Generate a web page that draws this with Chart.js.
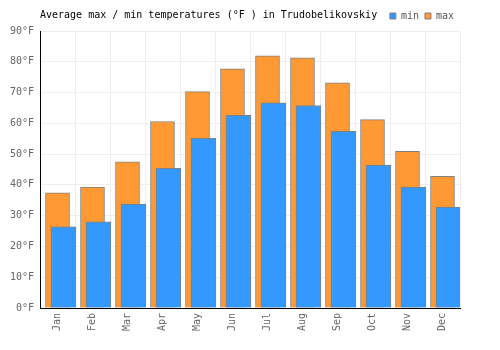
<!DOCTYPE html>
<html>
<head>
<meta charset="utf-8">
<script src="https://cdn.jsdelivr.net/npm/chart.js@4"></script>
<style>
  html, body { margin: 0; padding: 0; background: #fff; }
  #chart { display: block; }
</style>
</head>
<body>
<canvas id="chart" width="500" height="350"></canvas>
<script>
// datos
var months = ['Jan', 'Feb', 'Mar', 'Apr', 'May', 'Jun', 'Jul', 'Aug', 'Sep', 'Oct', 'Nov', 'Dec'];
var minTemps = [26.4, 28.0, 33.8, 45.4, 55.1, 62.6, 66.7, 65.8, 57.4, 46.4, 39.3, 32.8];
var maxTemps = [37.4, 39.3, 47.5, 60.6, 70.3, 77.7, 81.9, 81.3, 73.2, 61.2, 50.9, 42.8];
var yMin = 0, yMax = 90, yStep = 10;
var chartTitle = 'Average max / min temperatures (°F ) in Trudobelikovskiy';

var monoFont = '"DejaVu Sans Mono", "Liberation Mono", monospace';
var minShift = 0.17; // la barra azul va corrida a la derecha

// titulo en la misma fila que la leyenda
var titlePlugin = {
  id: 'titleRow',
  afterDraw: function (chart) {
    var ctx = chart.ctx;
    ctx.save();
    ctx.font = '10px ' + monoFont;
    ctx.fillStyle = '#000';
    ctx.textBaseline = 'middle';
    ctx.textAlign = 'left';
    ctx.fillText(chartTitle, 40, 15);
    ctx.restore();
  }
};

var ctx = document.getElementById('chart').getContext('2d');
var chart = new Chart(ctx, {
  type: 'bar',
  data: {
    labels: months,
    datasets: [
      {
        label: 'min',
        data: minTemps.map(function (v, i) { return { x: i + minShift, y: v }; }),
        xAxisID: 'xBar',
        backgroundColor: '#3399ff',
        borderColor: '#808080',
        borderWidth: 1,
        barThickness: 25,
        grouped: false
      },
      {
        label: 'max',
        data: maxTemps.map(function (v, i) { return { x: i, y: v }; }),
        xAxisID: 'xBar',
        backgroundColor: '#ff9933',
        borderColor: '#808080',
        borderWidth: 1,
        barThickness: 24,
        grouped: false
      }
    ]
  },
  options: {
    responsive: false,
    animation: false,
    layout: { padding: { top: 5, right: 40, left: 0, bottom: 0 } },
    plugins: {
      legend: {
        position: 'top',
        align: 'end',
        labels: {
          boxWidth: 6,
          boxHeight: 6,
          padding: 6,
          color: '#555',
          font: { family: monoFont, size: 10 }
        }
      },
      tooltip: { enabled: false }
    },
    scales: {
      x: {
        type: 'category',
        offset: true,
        grid: { offset: true, color: '#eeeeee', drawTicks: false },
        border: { color: '#000', width: 1 },
        ticks: {
          color: '#666',
          font: { family: monoFont, size: 10 },
          minRotation: 90,
          maxRotation: 90,
          padding: 5
        },
        afterFit: function (scale) { scale.height = 42; }
      },
      xBar: {
        type: 'linear',
        display: false,
        offset: false,
        bounds: 'ticks',
        min: -0.5,
        max: months.length - 0.5
      },
      y: {
        min: yMin,
        max: yMax,
        grid: { color: '#eeeeee', drawTicks: false },
        border: { color: '#000', width: 1 },
        ticks: {
          stepSize: yStep,
          color: '#666',
          padding: 6,
          font: { family: monoFont, size: 10 },
          callback: function (v) { return v + '°F'; }
        },
        afterFit: function (scale) { scale.width = 40; }
      }
    }
  },
  plugins: [titlePlugin]
});
</script>
</body>
</html>
